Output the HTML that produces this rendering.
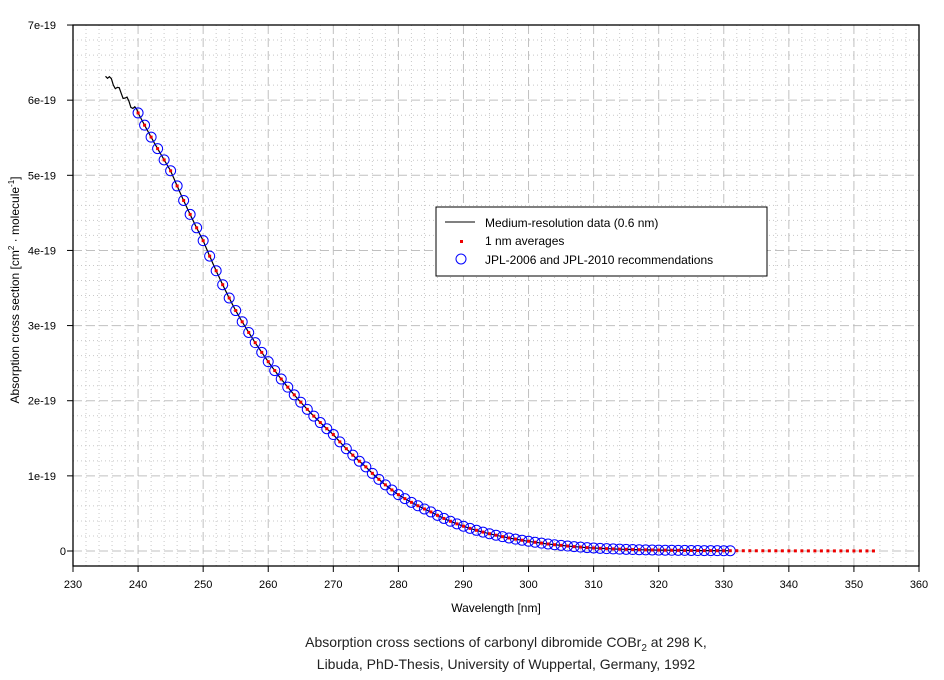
<!DOCTYPE html>
<html><head><meta charset="utf-8"><style>
html,body{margin:0;padding:0;background:#fff;}
svg{display:block;font-family:"Liberation Sans",Arial,sans-serif;}
</style></head><body>
<svg id="s" width="944" height="680" viewBox="0 0 944 680" xmlns="http://www.w3.org/2000/svg">
<rect width="944" height="680" fill="#fff"/>
<g id="grid"></g>
<g id="data"></g>
<rect x="73" y="25" width="846" height="541" fill="none" stroke="#000" stroke-width="1.3"/>
<g id="ticks" font-size="11" fill="#000"></g>
<text x="496" y="612" font-size="12" text-anchor="middle">Wavelength [nm]</text>
<text transform="translate(19,290) rotate(-90)" font-size="12" text-anchor="middle">Absorption cross section [cm<tspan font-size="8" dy="-5">2</tspan><tspan dy="5"> · molecule</tspan><tspan font-size="8" dy="-5">-1</tspan><tspan dy="5">]</tspan></text>
<text x="506" y="647" font-size="14" text-anchor="middle" fill="#222">Absorption cross sections of carbonyl dibromide COBr<tspan font-size="10" dy="4">2</tspan><tspan dy="-4"> at 298 K,</tspan></text>
<text x="506" y="669" font-size="14" text-anchor="middle" fill="#222">Libuda, PhD-Thesis, University of Wuppertal, Germany, 1992</text>
<g>
<rect x="436" y="207" width="331" height="69" fill="#fff" stroke="#000" stroke-width="1"/>
<line x1="445" y1="222" x2="475" y2="222" stroke="#000"/>
<rect x="460" y="240" width="3" height="3" fill="#e00"/>
<circle cx="461" cy="259" r="5" fill="none" stroke="#00f"/>
<text x="485" y="227" font-size="12">Medium-resolution data (0.6 nm)</text>
<text x="485" y="245" font-size="12">1 nm averages</text>
<text x="485" y="264" font-size="12">JPL-2006 and JPL-2010 recommendations</text>
</g>
</svg>
<script>
const NS="http://www.w3.org/2000/svg";
const X=w=>73+(w-230)*846/130, Y=v=>551-v*75.14;
function el(p,t,a,txt){const e=document.createElementNS(NS,t);for(const k in a)e.setAttribute(k,a[k]);if(txt!==undefined)e.textContent=txt;p.appendChild(e);return e;}
const g=document.getElementById('grid'),tk=document.getElementById('ticks'),d=document.getElementById('data');
for(let w=232;w<360;w+=2){if(w%10)el(g,'line',{x1:X(w),x2:X(w),y1:25,y2:566,stroke:'#c8c8c8','stroke-dasharray':'1,3'});}
for(let v=-0.2;v<7;v+=0.2){const r=Math.round(v*5);if(r%5)el(g,'line',{x1:73,x2:919,y1:Y(v),y2:Y(v),stroke:'#c8c8c8','stroke-dasharray':'1,3'});}
for(let w=240;w<360;w+=10)el(g,'line',{x1:X(w),x2:X(w),y1:25,y2:566,stroke:'#c0c0c0','stroke-dasharray':'9,4'});
for(let v=0;v<7;v++)el(g,'line',{x1:73,x2:919,y1:Y(v),y2:Y(v),stroke:'#c0c0c0','stroke-dasharray':'9,4'});
for(let w=230;w<=360;w+=10){el(tk,'line',{x1:X(w),x2:X(w),y1:566,y2:572,stroke:'#000'});el(tk,'text',{x:X(w),y:588,'text-anchor':'middle'},w);}
for(let v=0;v<=7;v++){el(tk,'line',{x1:67,x2:73,y1:Y(v),y2:Y(v),stroke:'#000'});el(tk,'text',{x:v?56:66,y:Y(v)+4,'text-anchor':'end'},v?v+'e-19':'0');}
const K=[[230,6.9],[235,6.35],[240,5.83],[245,5.06],[250,4.13],[255,3.2],[260,2.52],[265,1.98],[270,1.55],[275,1.12],[280,0.75],[285,0.52],[290,0.33],[295,0.21],[300,0.13],[305,0.075],[310,0.04],[320,0.012],[330,0.004],[360,0.0005]];
function f(w){for(let i=0;i<K.length-1;i++){if(w<=K[i+1][0]){const t=(w-K[i][0])/(K[i+1][0]-K[i][0]);return Math.exp(Math.log(K[i][1])*(1-t)+Math.log(K[i+1][1])*t);}}return 0;}
let p='';for(let w=235;w<=331;w+=0.3){let v=f(w);if(w<240)v+=Math.sin(w*37)*0.04;p+=(p?'L':'M')+X(w).toFixed(1)+','+Y(v).toFixed(1);}
el(d,'path',{d:p,fill:'none',stroke:'#000','stroke-width':1.2});
for(let w=240;w<=331;w++)el(d,'circle',{cx:X(w),cy:Y(f(w)),r:5,fill:'none',stroke:'#00f','stroke-width':1});
for(let w=240;w<=353;w++)el(d,'rect',{x:X(w)-1.5,y:Y(f(w))-1.5,width:3,height:3,fill:'#e00'});
</script>
</body></html>
